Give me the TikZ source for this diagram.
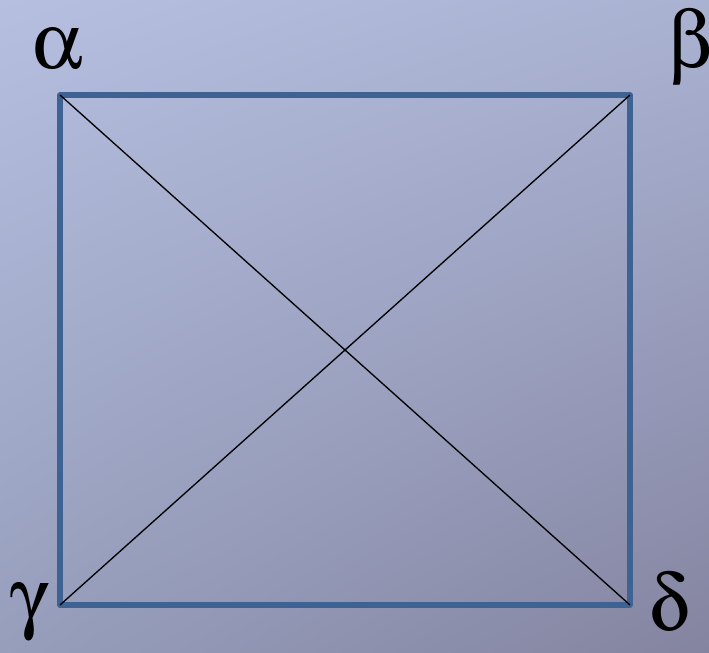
\documentclass[tikz,border=0pt]{standalone}
\usepackage[Symbol]{upgreek}
\usepackage{tikz}
\usetikzlibrary{positioning, shadings}
\definecolor{SkyTop}{RGB}{182, 191, 224}
\definecolor{SkyRight}{RGB}{170, 178, 210}
\definecolor{SkyLeft}{RGB}{150, 158, 188}
\definecolor{SkyBottom}{RGB}{132, 132, 160}
\definecolor{EdgeBlue}{RGB}{62, 98, 145}
\tikzset{
    corner/.style={inner sep=0pt, font=\fontsize{60}{62}\selectfont},
    edge/.style={draw=EdgeBlue, line width=3.8pt, line join=round},
    cross/.style={draw=black, line width=1pt}
}

\begin{document}
\begin{tikzpicture}[x=0.75pt, y=-0.75pt]
                \shade[upper left=SkyTop, upper right=SkyRight, lower left=SkyLeft, lower right=SkyBottom]
                    (0,0) rectangle (709,652);
                \useasboundingbox (0,0) rectangle (709,652);
                \coordinate (a) at (60,95);
                \coordinate (b) at (630,95);
                \coordinate (c) at (60,605);
                \coordinate (d) at (630,605);
                \draw[edge] (a) -- (b) -- (d) -- (c) -- cycle;
                \draw[cross] (a) -- (d);
                \draw[cross] (b) -- (c);
                \node[corner] (alpha) at (58,49) {$\upalpha$};
                \node[corner] (beta) at (690,48) {$\upbeta$};
                \node[corner] (gamma) at (30,612) {$\upgamma$};
                \node[corner] (delta) at (669,602) {$\updelta$};
            \end{tikzpicture}
\end{document}
